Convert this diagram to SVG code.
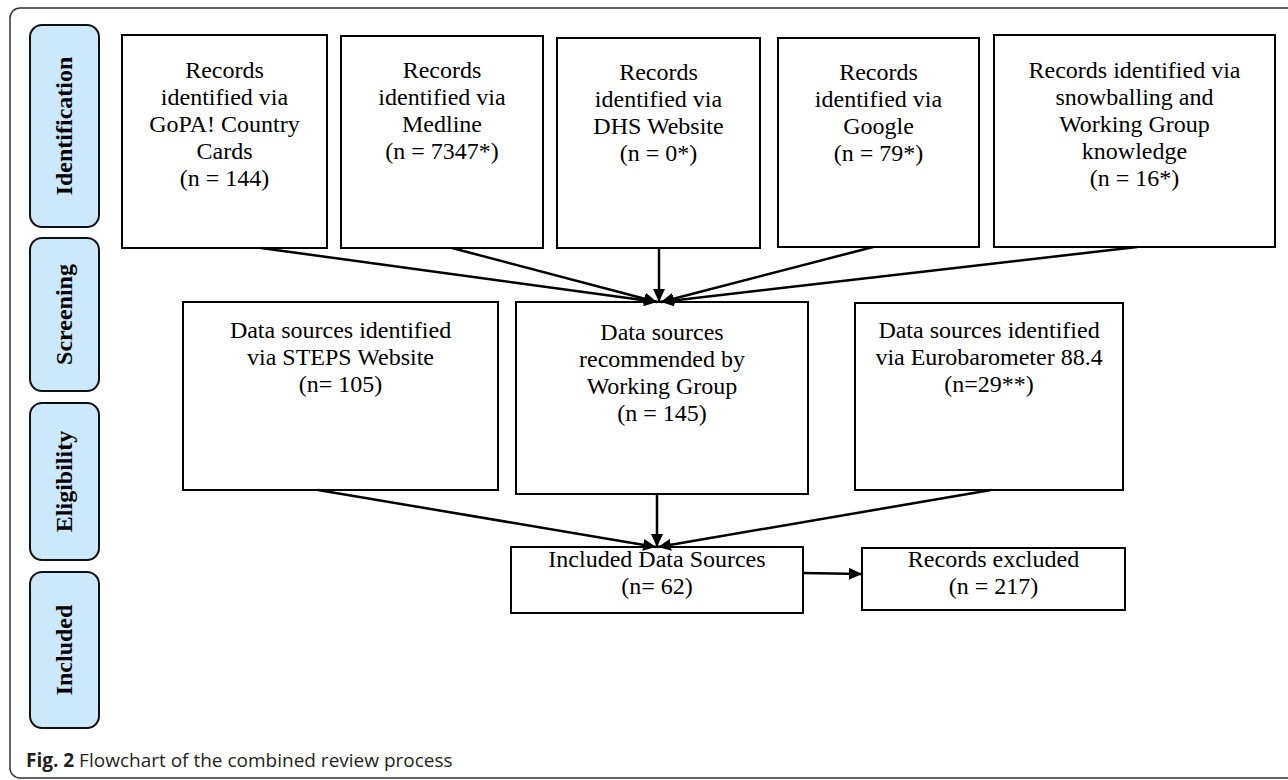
<svg xmlns="http://www.w3.org/2000/svg" width="1288" height="780" viewBox="0 0 1288 780">
<style>
.frame{fill:#fff;stroke:#333;stroke-width:1.5}
.stage{fill:#cce9fb;stroke:#111;stroke-width:2}
.stxt{font-family:"Liberation Serif","Times New Roman",serif;font-weight:bold;font-size:24px;fill:#000}
.box{fill:#fff;stroke:#000;stroke-width:2}
.t{font-family:"Liberation Serif","Times New Roman",serif;font-size:24px;fill:#000;text-anchor:middle}
.c{fill:none;stroke:#000;stroke-width:2.5}
.cap{font-family:"Open Sans","Noto Sans",sans-serif;font-size:19px;fill:#231f20}
</style>
<defs>
<marker id="ah" markerUnits="userSpaceOnUse" markerWidth="14" markerHeight="12" refX="13" refY="6" orient="auto">
<path d="M0,0 L13,6 L0,12 Z" fill="#000"/>
</marker>
</defs>
<rect class="frame" x="10" y="8" width="1290" height="770" rx="10"/>

<g id="stage-identification">
<rect class="stage" x="30" y="25" width="69" height="202" rx="12"/>
<text class="stxt" transform="translate(72,126) rotate(-90)" text-anchor="middle">Identification</text>
</g>
<g id="stage-screening">
<rect class="stage" x="30" y="238" width="69" height="153" rx="12"/>
<text class="stxt" transform="translate(72,314.5) rotate(-90)" text-anchor="middle">Screening</text>
</g>
<g id="stage-eligibility">
<rect class="stage" x="30" y="403" width="69" height="157" rx="12"/>
<text class="stxt" transform="translate(72,481.5) rotate(-90)" text-anchor="middle">Eligibility</text>
</g>
<g id="stage-included">
<rect class="stage" x="30" y="572" width="69" height="156" rx="12"/>
<text class="stxt" transform="translate(72,650) rotate(-90)" text-anchor="middle">Included</text>
</g>

<g id="n-gopa">
<rect class="box" x="122" y="35" width="205" height="213"/>
<text class="t" x="224.5" y="78">Records</text>
<text class="t" x="224.5" y="105">identified via</text>
<text class="t" x="224.5" y="132">GoPA! Country</text>
<text class="t" x="224.5" y="159">Cards</text>
<text class="t" x="224.5" y="186">(n = 144)</text>
</g>
<g id="n-medline">
<rect class="box" x="341" y="36" width="202" height="212"/>
<text class="t" x="442" y="78">Records</text>
<text class="t" x="442" y="105">identified via</text>
<text class="t" x="442" y="132">Medline</text>
<text class="t" x="442" y="159">(n = 7347*)</text>
</g>
<g id="n-dhs">
<rect class="box" x="557" y="38" width="203" height="210"/>
<text class="t" x="658.5" y="80">Records</text>
<text class="t" x="658.5" y="107">identified via</text>
<text class="t" x="658.5" y="134">DHS Website</text>
<text class="t" x="658.5" y="161">(n = 0*)</text>
</g>
<g id="n-google">
<rect class="box" x="778" y="38" width="201" height="209"/>
<text class="t" x="878.5" y="80">Records</text>
<text class="t" x="878.5" y="107">identified via</text>
<text class="t" x="878.5" y="134">Google</text>
<text class="t" x="878.5" y="161">(n = 79*)</text>
</g>
<g id="n-snow">
<rect class="box" x="994" y="35" width="281" height="212"/>
<text class="t" x="1134.5" y="78">Records identified via</text>
<text class="t" x="1134.5" y="105">snowballing and</text>
<text class="t" x="1134.5" y="132">Working Group</text>
<text class="t" x="1134.5" y="159">knowledge</text>
<text class="t" x="1134.5" y="186">(n = 16*)</text>
</g>

<g id="n-steps">
<rect class="box" x="183" y="302" width="315" height="188"/>
<text class="t" x="340.5" y="338">Data sources identified</text>
<text class="t" x="340.5" y="365">via STEPS Website</text>
<text class="t" x="340.5" y="392">(n= 105)</text>
</g>
<g id="n-wg">
<rect class="box" x="516" y="302" width="292" height="192"/>
<text class="t" x="662" y="340">Data sources</text>
<text class="t" x="662" y="367">recommended by</text>
<text class="t" x="662" y="394">Working Group</text>
<text class="t" x="662" y="421">(n = 145)</text>
</g>
<g id="n-euro">
<rect class="box" x="855" y="303" width="268" height="187"/>
<text class="t" x="989" y="338">Data sources identified</text>
<text class="t" x="989" y="365">via Eurobarometer 88.4</text>
<text class="t" x="989" y="392">(n=29**)</text>
</g>

<g id="n-included">
<rect class="box" x="511" y="547" width="292" height="66"/>
<text class="t" x="657" y="567">Included Data Sources</text>
<text class="t" x="657" y="594">(n= 62)</text>
</g>
<g id="n-excluded">
<rect class="box" x="862" y="548" width="263" height="62"/>
<text class="t" x="993.5" y="567">Records excluded</text>
<text class="t" x="993.5" y="594">(n = 217)</text>
</g>

<g id="connectors">
<path class="c" d="M261,248 L657,302" marker-end="url(#ah)"/>
<path class="c" d="M452,248 L657,302" marker-end="url(#ah)"/>
<path class="c" d="M659,248 L659,302" marker-end="url(#ah)"/>
<path class="c" d="M873,247 L661,302" marker-end="url(#ah)"/>
<path class="c" d="M1137,247 L661,302" marker-end="url(#ah)"/>
<path class="c" d="M318,490 L656,547" marker-end="url(#ah)"/>
<path class="c" d="M657,494 L657,547" marker-end="url(#ah)"/>
<path class="c" d="M991,490 L658,547" marker-end="url(#ah)"/>
<path class="c" d="M803,573 L862,574" marker-end="url(#ah)"/>
</g>

<text class="cap" x="26" y="767"><tspan font-weight="bold">Fig. 2</tspan> Flowchart of the combined review process</text>
</svg>
